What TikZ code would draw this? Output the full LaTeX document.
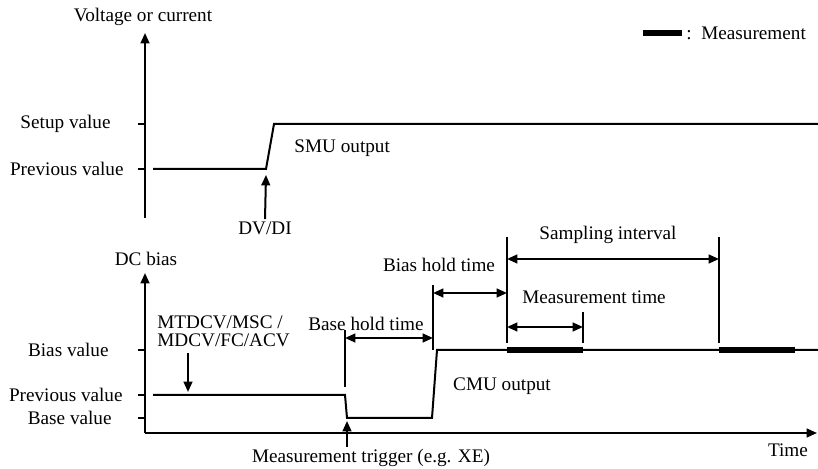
\documentclass[tikz,border=0pt]{standalone}
\usepackage{fontspec}
\setmainfont{Liberation Serif}
\usetikzlibrary{arrows.meta,calc,positioning}
\tikzset{>={Triangle[length=5.2pt,width=4.4pt]}}
\tikzset{
  axis/.style={->,line width=1pt},
  sig/.style={line width=1pt,line join=miter},
  tickline/.style={line width=1pt},
  guide/.style={line width=1pt},
  span/.style={<->,line width=1pt},
  meas/.style={line width=3pt},
  lbl/.style={inner sep=1pt}
}

\begin{document}
\begin{tikzpicture}[x=0.5pt,y=-0.5pt,font=\fontsize{9.6}{11.5}\selectfont]
  \useasboundingbox (0,0) rectangle (818,469);

  % Upper panel: SMU output
  \coordinate (vbot) at (145,218);
  \coordinate (vtop) at (145,33);
  \draw[axis] (vbot) -- (vtop);
  \node[lbl] (vlabel) at (143,17) {Voltage or current};

  \draw[tickline] (138,124) -- (145,124);
  \draw[tickline] (138,169) -- (145,169);
  \node[lbl,anchor=east] (setup) at (113,124) {Setup value};
  \node[lbl,anchor=east] (prevup) at (126,169) {Previous value};

  \coordinate (s0) at (153,169);
  \coordinate (s1) at (266,169);
  \coordinate (s2) at (274,124);
  \coordinate (s3) at (818,124);
  \draw[sig] (s0) -- (s1) -- (s2) -- (s3);
  \node[lbl,anchor=west] (smu) at (292,148) {SMU output};

  \node[lbl] (dvdi) at (265,228) {DV/DI};
  \draw[->,line width=1pt] (dvdi.north) -- ($(s1)+(0,6)$);

  % Legend
  \coordinate (legA) at (643,33);
  \coordinate (legB) at (682,33);
  \draw[meas] (legA) -- (legB);
  \node[lbl,anchor=west] (legtext) at (684,33) {:\ \ Measurement};

  % Lower panel: CMU output
  \coordinate (origin) at (145,433);
  \coordinate (ytop) at (145,273);
  \coordinate (xend) at (817,433);
  \draw[axis] (origin) -- (ytop);
  \draw[axis] (origin) -- (xend);
  \node[lbl] (dclabel) at (146,259) {DC bias};
  \node[lbl] (timelabel) at (788,450) {Time};

  \foreach \yy in {350,395,418}
    \draw[tickline] (138,\yy) -- (145,\yy);
  \node[lbl,anchor=east] (biasval) at (111,350) {Bias value};
  \node[lbl,anchor=east] (prevlow) at (125,395) {Previous value};
  \node[lbl,anchor=east] (baseval) at (114,418) {Base value};

  \coordinate (c0) at (153,395);
  \coordinate (c1) at (345,395);
  \coordinate (c2) at (347,418);
  \coordinate (c3) at (432,418);
  \coordinate (c4) at (437,350);
  \coordinate (c5) at (818,350);
  \draw[sig] (c0) -- (c1) -- (c2) -- (c3) -- (c4) -- (c5);
  \node[lbl] (cmu) at (502,386) {CMU output};

  % measurement windows
  \draw[meas] (507,350) -- (583,350);
  \draw[meas] (719,350) -- (795,350);

  % command arrow
  \node[lbl,anchor=west,align=left,font=\fontsize{9.6}{9}\selectfont]
    (cmd) at (155,331) {MTDCV/MSC /\\MDCV/FC/ACV};
  \draw[->,line width=1pt] (188,353) -- (188,392);

  % trigger
  \node[lbl] (trig) at (371,458) {Measurement trigger (e.g. XE)};
  \draw[->,line width=1pt] (trig.north -| c2) -- ($(c2)+(0,3)$);

  % timing marks
  \coordinate (tb) at (345,330);
  \coordinate (tbb) at (345,387);
  \coordinate (th) at (433,285);
  \coordinate (thb) at (433,350);
  \coordinate (tm) at (507,237);
  \coordinate (tmb) at (507,343);
  \coordinate (te) at (583,312);
  \coordinate (teb) at (583,343);
  \coordinate (ts) at (719,237);
  \coordinate (tsb) at (719,343);
  \draw[guide] (tb) -- (tbb);
  \draw[guide] (th) -- (thb);
  \draw[guide] (tm) -- (tmb);
  \draw[guide] (te) -- (teb);
  \draw[guide] (ts) -- (tsb);

  \draw[span] (345,338) -- (433,338);
  \node[lbl] (basehold) at (366,324) {Base hold time};
  \draw[span] (433,293) -- (507,293);
  \node[lbl] (biashold) at (439,265) {Bias hold time};
  \draw[span] (507,259) -- (719,259);
  \node[lbl] (sampling) at (608,235) {Sampling interval};
  \draw[span] (507,327) -- (583,327);
  \node[lbl] (meastime) at (594,297) {Measurement time};
\end{tikzpicture}
\end{document}
